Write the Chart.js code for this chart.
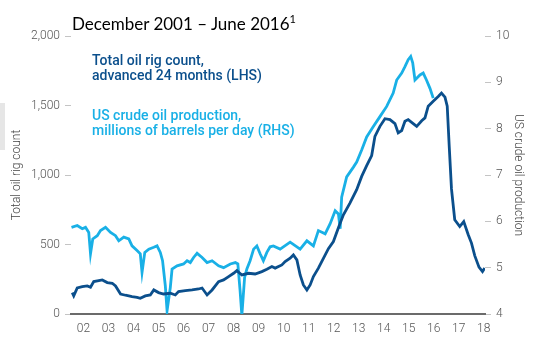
<!DOCTYPE html>
<html>
<head>
  <meta charset="UTF-8" />
  <title>Oil rig count vs US crude production</title>
  <style>
    body { margin: 0; background: #fff; }
    #wrap { position: relative; width: 537px; height: 352px; overflow: hidden; }
    .note { position: absolute; white-space: nowrap; }
    #title { left: 72px; top: 14px; font: 17px/20px Lato, sans-serif; color: #000; }
    #title sup { font-size: 11px; vertical-align: 7px; line-height: 0; }
    .legend { font: 500 14px/15px Roboto, sans-serif; }
    #rigNote { left: 92px; top: 53px; color: #0b4f8c; }
    #prodNote { left: 92px; top: 108px; color: #19b0e6; }
    #tab { position: absolute; left: 0; top: 103px; width: 5px; height: 47px; background: #e6e6e6; }
  </style>
</head>
<body>
  <div id="wrap">
    <canvas id="chart" width="537" height="352"></canvas>
    <div id="tab"></div>
    <div class="note" id="title">December 2001 – June 2016<sup>1</sup></div>
    <div class="note legend" id="rigNote">Total oil rig count,<br>advanced 24 months (LHS)</div>
    <div class="note legend" id="prodNote">US crude oil production,<br>millions of barrels per day (RHS)</div>
  </div>
  <script src="https://cdn.jsdelivr.net/npm/chart.js"></script>
  <script>
    // x labels are two-digit years, centred in each year
    const xTickLabels = ['02', '03', '04', '05', '06', '07', '08', '09', '10', '11', '12', '13', '14', '15', '16', '17', '18'];
    const rigTicks = [0, 500, 1000, 1500, 2000];
    const prodTicks = [4, 5, 6, 7, 8, 9, 10];

    // total oil rig count, shifted forward 24 months (decimal years)
    const rigYears = [2002.05, 2002.11, 2002.25, 2002.45, 2002.65, 2002.78, 2002.91, 2003.11, 2003.25, 2003.45,
      2003.65, 2003.78, 2003.98, 2004.18, 2004.44, 2004.64, 2004.77, 2004.97, 2005.17, 2005.31,
      2005.50, 2005.70, 2005.97, 2006.17, 2006.30, 2006.57, 2006.84, 2007.10, 2007.24, 2007.44,
      2007.64, 2007.90, 2008.10, 2008.30, 2008.50, 2008.63, 2008.83, 2009.10, 2009.36, 2009.63,
      2009.83, 2010.03, 2010.16, 2010.43, 2010.56, 2010.76, 2010.89, 2011.03, 2011.16, 2011.29,
      2011.43, 2011.56, 2011.69, 2011.89, 2012.09, 2012.29, 2012.49, 2012.69, 2012.89, 2013.15,
      2013.42, 2013.62, 2013.82, 2014.02, 2014.15, 2014.35, 2014.55, 2014.75, 2014.95, 2015.08,
      2015.22, 2015.35, 2015.48, 2015.68, 2015.82, 2016.02, 2016.15, 2016.28, 2016.48, 2016.68,
      2016.81, 2016.95, 2017.04, 2017.12, 2017.21, 2017.34, 2017.54, 2017.70, 2017.88, 2018.01,
      2018.14, 2018.31, 2018.45, 2018.54];
    const rigCounts = [154, 130, 187, 197, 202, 192, 233, 240, 245, 226,
      221, 202, 144, 135, 125, 120, 113, 130, 137, 173,
      154, 144, 149, 137, 161, 168, 173, 180, 187, 137,
      173, 233, 245, 269, 293, 312, 281, 293, 288, 305,
      322, 341, 330, 353, 377, 401, 425, 389, 281, 209,
      173, 209, 269, 330, 400, 470, 521, 620, 714, 798,
      894, 990, 1068, 1140, 1278, 1350, 1405, 1399, 1370, 1303,
      1320, 1387, 1399, 1370, 1350, 1390, 1411, 1495, 1531, 1565,
      1590, 1560, 1495, 1206, 900, 678, 629, 665, 570, 510,
      420, 337, 305, 330];

    // US crude oil production, million barrels per day
    const prodYears = [2002.02, 2002.25, 2002.45, 2002.58, 2002.71, 2002.78, 2002.87, 2003.05, 2003.18, 2003.38,
      2003.58, 2003.78, 2003.91, 2004.11, 2004.31, 2004.44, 2004.64, 2004.77, 2004.84, 2004.95,
      2005.11, 2005.31, 2005.44, 2005.57, 2005.66, 2005.77, 2005.84, 2005.97, 2006.04, 2006.24,
      2006.50, 2006.64, 2006.77, 2006.90, 2007.04, 2007.24, 2007.44, 2007.64, 2007.90, 2008.10,
      2008.37, 2008.57, 2008.67, 2008.76, 2008.83, 2008.94, 2009.03, 2009.16, 2009.30, 2009.43,
      2009.56, 2009.69, 2009.83, 2009.96, 2010.09, 2010.36, 2010.76, 2011.16, 2011.43, 2011.69,
      2011.89, 2012.16, 2012.36, 2012.56, 2012.69, 2012.76, 2012.82, 2013.02, 2013.29, 2013.42,
      2013.62, 2013.82, 2014.08, 2014.35, 2014.62, 2014.88, 2015.02, 2015.22, 2015.35, 2015.48,
      2015.58, 2015.66, 2015.75, 2015.95, 2016.08, 2016.21, 2016.35, 2016.48];
    const prodValues = [5.87, 5.91, 5.84, 5.87, 5.76, 5.30, 5.62, 5.69, 5.80, 5.87,
      5.76, 5.69, 5.58, 5.66, 5.62, 5.47, 5.37, 5.30, 4.90, 5.33,
      5.40, 5.44, 5.47, 5.33, 5.15, 4.61, 4.07, 4.57, 4.97, 5.04,
      5.08, 5.15, 5.11, 5.22, 5.31, 5.22, 5.11, 5.15, 5.04, 5.00,
      5.08, 5.11, 5.08, 4.50, 3.97, 4.79, 4.97, 5.15, 5.40, 5.47,
      5.30, 5.15, 5.33, 5.45, 5.47, 5.40, 5.55, 5.40, 5.58, 5.47,
      5.80, 5.73, 5.95, 6.23, 6.16, 5.84, 6.52, 6.96, 7.17, 7.28,
      7.54, 7.82, 8.04, 8.26, 8.48, 8.77, 9.05, 9.20, 9.34, 9.49,
      9.56, 9.42, 9.05, 9.16, 9.20, 9.05, 8.87, 8.66];

    const darkBlue = '#0b4f8c';
    const lightBlue = '#19b0e6';
    const tickFont = { family: 'Roboto', size: 12, weight: 300 };

    new Chart(document.getElementById('chart'), {
      type: 'line',
      data: {
        datasets: [{
          label: 'Total oil rig count',
          data: rigYears.map((yr, i) => ({ x: yr, y: rigCounts[i] })),
          yAxisID: 'yRig',
          borderColor: darkBlue,
          borderWidth: 2.8,
          pointRadius: 0
        }, {
          label: 'US crude oil production',
          data: prodYears.map((yr, i) => ({ x: yr, y: prodValues[i] })),
          yAxisID: 'yProd',
          borderColor: lightBlue,
          borderWidth: 2.8,
          pointRadius: 0
        }]
      },
      options: {
        responsive: false,
        animation: false,
        layout: { padding: { top: 36, left: 0, right: 0, bottom: 0 } },
        plugins: { legend: { display: false }, tooltip: { enabled: false } },
        scales: {
          x: {
            type: 'linear',
            min: 2002.0,
            max: 2018.55,
            grid: { display: false, drawTicks: false },
            border: { display: true, color: '#6b6b6b', width: 2 },
            afterBuildTicks: s => { s.ticks = xTickLabels.map(l => ({ value: 2000 + Number(l) + 0.5 })); },
            afterFit: s => { s.height = 38; },
            ticks: {
              autoSkip: false,
              maxRotation: 0,
              padding: 8,
              color: '#555',
              font: tickFont,
              callback: v => xTickLabels[Math.round(v - 2002.5)]
            }
          },
          yRig: {
            position: 'left',
            min: rigTicks[0],
            max: rigTicks[rigTicks.length - 1],
            afterBuildTicks: s => { s.ticks = rigTicks.map(v => ({ value: v })); },
            afterFit: s => { s.width = 71; },
            grid: { drawOnChartArea: false, drawTicks: true, tickLength: 6, color: '#c4c4c4' },
            border: { display: false },
            ticks: { padding: 5, color: '#555', font: tickFont, callback: v => v.toLocaleString('en-US') },
            title: { display: true, text: 'Total oil rig count', color: '#444', font: { family: 'Roboto', size: 12, weight: 300 }, padding: { top: 10, bottom: 0 } }
          },
          yProd: {
            position: 'right',
            min: prodTicks[0],
            max: prodTicks[prodTicks.length - 1],
            afterBuildTicks: s => { s.ticks = prodTicks.map(v => ({ value: v })); },
            afterFit: s => { s.width = 52; },
            grid: { drawOnChartArea: false, drawTicks: true, tickLength: 6, color: '#c4c4c4' },
            border: { display: false },
            ticks: { padding: 5, color: '#555', font: tickFont },
            title: { display: true, text: 'US crude oil production', color: '#444', font: { family: 'Roboto', size: 12, weight: 300 }, padding: { top: 12, bottom: 0 } }
          }
        }
      }
    });
  </script>
</body>
</html>
